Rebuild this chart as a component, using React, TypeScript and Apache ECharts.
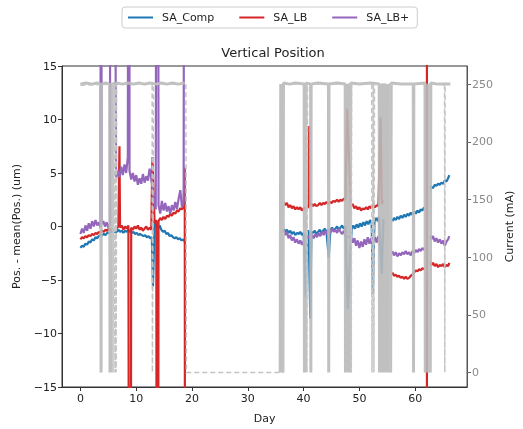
import React, { useEffect, useRef } from "react";
import * as echarts from "echarts";

// Position series: [day, Pos - mean(Pos) (um)]; "-" marks a gap
const saComp: (number | string)[][] = [
  [0, -2.0], [0.3, -1.8], [0.6, -1.9], [0.9, -1.6], [1.2, -1.7], [1.5, -1.4], [1.8, -1.5], [2.1, -1.2], [2.4, -1.3], [2.7, -1.0], [3.0, -1.1], [3.3, -0.9], [3.6, -0.8],
  [3.9, -0.8], [4.2, -0.7], [4.5, -0.8], [4.8, -0.6], [5.1, -0.6], [5.3, -0.5],
  [6.5, -0.5], [6.8, -0.3], [7.1, -0.5], [7.4, -0.4], [7.7, -0.6], [8.0, -0.4], [8.3, -0.5], [8.6, -0.3], [8.9, -0.5], [9.2, -0.6], [9.5, -0.5], [9.8, -0.7], [10.1, -0.6], [10.4, -0.8], [10.7, -0.7], [11.0, -0.8], [11.3, -0.9], [11.6, -0.8], [11.9, -1.0], [12.2, -0.9], [12.5, -1.1], [12.8, -1.0], [13.0, -5.6],
  [13.3, 0.5], [13.6, 0.0], [13.9, -0.2], [14.2, 0.1], [14.5, -0.3], [14.8, -0.5], [15.1, -0.4], [15.4, -0.7], [15.7, -0.6], [16.0, -0.9], [16.3, -0.8], [16.6, -1.0], [16.9, -1.1], [17.2, -1.0], [17.5, -1.2], [17.8, -1.1], [18.1, -1.3], [18.4, -1.2], [18.7, -1.4], [18.8, "-"],
  [36.4, -0.2], [36.7, -0.5], [37.0, -0.3], [37.3, -0.6], [37.6, -0.4], [37.9, -0.7], [38.2, -0.5], [38.5, -0.8], [38.8, -0.6], [39.1, -0.7], [39.4, -0.5], [39.7, -0.8], [40.0, -0.6], [40.4, -6.6], [40.6, -0.5], [40.9, -0.4], [41.2, -8.6], [41.4, -0.5],
  [41.7, -0.6], [42.0, -0.4], [42.3, -0.7], [42.6, -0.5], [42.9, -0.3], [43.2, -0.6], [43.5, -0.4], [43.8, -0.2], [44.1, -0.5], [44.5, -2.9], [44.8, -0.3], [45.1, -0.1], [45.4, -0.4], [45.7, -0.2], [46.0, 0.0], [46.3, -0.3], [46.6, -0.1], [46.9, 0.1], [47.2, -0.2], [47.5, 0.0], [47.9, -7.7],
  [48.6, -0.3], [48.9, 0.1], [49.2, -0.2], [49.5, 0.2], [49.8, -0.1], [50.1, 0.3], [50.4, 0.0], [50.7, 0.4], [51.0, 0.1], [51.3, 0.5], [51.6, 0.2], [51.9, 0.6], [52.2, 0.3], [52.4, -6.3],
  [52.7, 0.5], [53.0, 0.8], [53.3, 0.5], [53.5, 0.9], [54.0, -4.4], [54.3, 0.7], [54.5, "-"],
  [55.9, 0.5], [56.2, 0.8], [56.5, 0.6], [56.8, 0.9], [57.1, 0.7], [57.4, 1.0], [57.7, 0.8], [58.0, 1.1], [58.3, 0.9], [58.6, 1.2], [58.9, 1.0], [59.2, 1.3], [59.5, 1.1], [59.8, 1.4], [60.1, 1.2], [60.4, 1.5], [60.7, 1.3], [61.0, 1.6], [61.3, 1.5], [61.6, 1.8], [61.8, "-"],
  [62.6, 3.5], [62.9, 3.7], [63.2, 3.6], [63.5, 3.9], [63.8, 3.8], [64.1, 4.0], [64.4, 3.9], [64.7, 4.1], [65.0, 4.0], [65.3, 4.3], [65.6, 4.2], [65.9, 4.5], [66.1, 4.8],
];

const saLB: (number | string)[][] = [
  [0, -1.2], [0.3, -1.0], [0.6, -1.1], [0.9, -0.9], [1.2, -1.0], [1.5, -0.8], [1.8, -0.9], [2.1, -0.7], [2.4, -0.8], [2.7, -0.6], [3.0, -0.7], [3.3, -0.5], [3.6, -0.6],
  [3.9, -0.4], [4.2, -0.5], [4.5, -0.3], [4.8, -0.4], [5.1, -0.2], [5.3, -0.3],
  [6.5, -0.2], [6.8, 0.0], [7.0, 7.5], [7.1, -0.1], [7.4, 0.1], [7.7, -0.3], [8.0, 0.0], [8.3, -0.2], [8.6, 0.1], [8.9, -100], [9.1, -0.1], [9.4, -0.3], [9.7, 0.0], [10.0, -0.2], [10.3, 0.1], [10.6, -0.3], [10.9, -0.1], [11.2, -0.4], [11.5, -0.2], [11.8, 0.0], [12.1, -0.3], [12.4, -0.1], [12.7, -0.3], [12.9, 6.5],
  [13.3, 0.3], [13.6, 0.6], [13.8, -100], [14.0, 0.5], [14.3, 0.8], [14.6, 0.6], [14.9, 0.9], [15.2, 0.7], [15.5, 1.0], [15.8, 0.9], [16.1, 1.2], [16.4, 1.0], [16.7, 1.3], [17.0, 1.2], [17.3, 1.5], [17.6, 1.4], [17.9, 1.7], [18.2, 1.6], [18.5, 1.9], [18.7, 5.5], [18.8, -100], [18.9, "-"],
  [36.4, 2.3], [36.7, 2.0], [37.0, 2.2], [37.3, 1.8], [37.6, 2.0], [37.9, 1.7], [38.2, 1.9], [38.5, 1.6], [38.8, 1.8], [39.1, 1.6], [39.4, 1.8], [39.7, 1.5], [40.0, 1.7],
  [40.9, 1.8], [41.0, 9.4], [41.1, 2.0], [41.4, 2.1], [41.7, 1.9], [42.0, 2.1], [42.3, 1.9], [42.6, 2.0], [42.9, 2.2], [43.2, 2.0], [43.5, 2.2], [43.8, 2.1], [44.1, 2.3], [44.4, 2.1], [44.7, 2.3], [45.0, 2.2], [45.3, 2.4], [45.6, 2.3], [46.0, 2.5], [46.3, 2.3], [46.6, 2.5], [46.9, 2.4], [47.2, 2.6], [47.5, 2.5], [47.8, 11.0],
  [48.5, 1.9], [48.8, 2.1], [49.1, 1.7], [49.4, 1.9], [49.7, 1.6], [50.0, 1.8], [50.3, 1.5], [50.6, 1.7], [50.9, 1.6], [51.2, 1.8], [51.5, 1.6], [51.8, 1.9], [52.1, 1.7], [52.4, 2.0],
  [52.8, 1.8], [53.1, 2.0], [53.4, 1.9], [53.8, 10.2], [54.0, 2.1], [54.3, 2.4], [54.5, "-"],
  [55.9, -4.3], [56.2, -4.6], [56.5, -4.5], [56.8, -4.7], [57.1, -4.6], [57.4, -4.8], [57.7, -4.7], [58.0, -4.9], [58.3, -4.7], [58.6, -4.9], [58.9, -4.8], [59.2, -4.6], [59.5, -4.5], [59.8, -4.3], [60.1, -4.1], [60.4, -4.2], [60.7, -4.0], [61.0, -4.1], [61.3, -3.9], [61.6, -4.0], [61.8, "-"],
  [62.1, 100], [62.1, -100], [62.2, "-"],
  [62.6, -3.3], [62.9, -3.6], [63.2, -3.4], [63.5, -3.7], [63.8, -3.5], [64.1, -3.8], [64.4, -3.6], [64.7, -3.7], [65.0, -3.5], [65.3, -3.8], [65.6, -3.6], [65.9, -3.7], [66.1, -3.4],
];

const saLBPlus: (number | string)[][] = [
  [0, -0.7], [0.3, -0.2], [0.6, -0.6], [0.9, 0.1], [1.2, -0.4], [1.5, 0.3], [1.8, -0.2], [2.1, 0.5], [2.4, 0.0], [2.7, 0.6], [3.0, 0.1], [3.3, 0.4], [3.6, -0.1], [3.7, 100],
  [3.8, 0.2], [4.1, 0.5], [4.4, 0.0], [4.7, 0.4], [5.0, -0.1], [5.3, 0.3], [5.4, 100], [5.6, 100],
  [6.4, 4.5], [6.7, 5.2], [7.0, 4.6], [7.3, 5.6], [7.6, 4.8], [7.9, 5.8], [8.2, 5.0], [8.5, 6.5], [8.7, 100], [8.8, 5.2], [9.1, 4.4], [9.4, 5.0], [9.7, 4.2], [10.0, 4.8], [10.3, 3.9], [10.6, 4.5], [10.9, 4.0], [11.2, 4.9], [11.5, 4.1], [11.8, 4.7], [12.1, 4.3], [12.4, 5.4], [12.6, 4.8],
  [13.2, 2.5], [13.5, 1.6], [13.8, 100], [14.0, 2.0], [14.3, 1.2], [14.6, 2.4], [14.9, 1.5], [15.2, 2.2], [15.5, 1.4], [15.8, 1.9], [16.1, 1.2], [16.4, 2.0], [16.7, 1.5], [17.0, 2.3], [17.3, 1.6], [17.6, 2.6], [17.9, 3.4], [18.2, 1.8], [18.5, 2.2], [18.7, 100], [18.8, "-"],
  [36.4, -0.3], [36.7, -0.8], [37.0, -0.5], [37.3, -1.1], [37.6, -0.8], [37.9, -1.3], [38.2, -1.0], [38.5, -1.5], [38.8, -1.2], [39.1, -1.6], [39.4, -1.3], [39.7, -1.7], [40.0, -1.4],
  [40.9, -0.9], [41.2, -1.2], [41.5, -0.8], [41.8, -1.1], [42.1, -0.7], [42.4, -1.0], [42.7, -0.6], [43.0, -0.9], [43.3, -0.5], [43.6, -0.8], [43.9, -0.4], [44.2, -0.7], [44.5, -0.3], [44.8, -0.6], [45.1, -0.2], [45.4, -0.5], [45.7, -0.3], [46.0, -0.6], [46.3, -0.2], [46.6, -0.5], [46.9, -0.7], [47.2, -0.4], [47.5, -0.9],
  [48.5, -1.0], [48.8, -1.5], [49.1, -1.1], [49.4, -1.8], [49.7, -1.3], [50.0, -2.0], [50.3, -1.4], [50.6, -1.9], [50.9, -1.2], [51.2, -1.7], [51.5, -1.0], [51.8, -1.6], [52.1, -1.1], [52.4, -1.5],
  [52.8, -1.0], [53.1, -1.5], [53.4, -0.9], [53.7, -1.3], [54.0, -1.0], [54.3, "-"],
  [55.9, -2.3], [56.2, -2.7], [56.5, -2.4], [56.8, -2.8], [57.1, -2.5], [57.4, -2.7], [57.7, -2.4], [58.0, -2.6], [58.3, -2.3], [58.6, -2.6], [58.9, -2.4], [59.2, -2.7], [59.5, -2.3], [59.8, -2.5], [60.1, -2.2], [60.4, -2.4], [60.7, -2.1], [61.0, -2.3], [61.3, -2.0], [61.6, -2.2], [61.8, "-"],
  [62.6, -0.8], [62.9, -1.2], [63.2, -0.9], [63.5, -1.4], [63.8, -1.1], [64.1, -1.5], [64.4, -1.2], [64.7, -1.6], [65.0, -1.3], [65.3, -1.8], [65.6, -1.4], [65.9, -1.2], [66.1, -0.9],
];

// Beam current (mA): [day, mA]; "-" marks a gap
const currentSolid: (number | string)[][] = [
  [0, 250], [1, 251], [2, 250], [3, 251], [3.65, 250], [3.7, 0], [3.75, 250], [4.5, 251], [5.25, 250], [5.3, 0], [5.35, 250], [5.5, 0], [5.6, 250],
  [6.5, 251], [7.5, 250], [8.5, 251], [9.5, 250], [10.5, 251], [11.5, 250], [12.5, 251], [13.5, 250], [14.5, 251], [15.5, 250], [16.5, 251], [17.5, 250], [18.7, 251], [18.75, "-"],
  [35.8, 0], [35.9, 250], [36.0, 0], [36.2, 250], [36.3, 0], [36.4, 251], [37.5, 250], [38.5, 251], [40.1, 250], [40.15, 0], [40.3, 250], [40.35, 0], [40.45, 251],
  [41.25, 250], [41.3, 0], [41.35, 250], [42.5, 251], [44.45, 250], [44.5, 0], [44.55, 250], [46, 251], [47.45, 250], [47.5, 0], [47.6, 250], [47.7, 0], [47.9, 250], [48.0, 0], [48.2, 250], [48.3, 0], [48.45, 251],
  [50, 250], [52.0, 251], [53.55, 250], [53.6, 0], [53.7, 250], [53.9, 0], [54.0, 250], [54.3, 0], [54.4, 250], [54.8, 0], [54.9, 250], [55.2, 0], [55.3, 250], [55.6, 0], [55.7, 251],
  [57.5, 250], [59.65, 250], [59.7, 0], [59.75, 250], [61.75, 251], [61.8, 0], [61.9, 250], [62.0, 0], [62.1, 250], [62.3, 0], [62.4, 250], [62.7, 0], [62.8, 251], [64, 250], [66.3, 250],
];

const currentDashed: number[][] = [
  [0, 249], [5.8, 250], [5.85, 0], [6.0, 250], [6.2, 0], [6.35, 250], [6.4, 0], [6.5, 250], [12.85, 251], [12.9, 0], [13.1, 250], [18.9, 250], [19.0, 0],
  [36.3, 0], [36.5, 250], [40.5, 250], [40.6, 0], [40.7, 250], [48.5, 250], [48.55, 0], [48.6, 250], [52.2, 250], [52.25, 0], [52.5, 250], [52.6, 0], [52.7, 250],
  [55.45, 250], [55.5, 0], [55.55, 250], [62.45, 250], [62.5, 0], [62.55, 250], [65.25, 250], [65.3, 0], [65.35, 250], [66.3, 250],
];

const xTicks = [0, 10, 20, 30, 40, 50, 60];
const rightTicks = [0, 50, 100, 150, 200, 250];

const FONT = "DejaVu Sans";
const minus = (v: number) => String(v).replace("-", "\u2212");

export default function App() {
  const ref = useRef<HTMLDivElement>(null);
  useEffect(() => {
    if (!ref.current) return;
    const chart = echarts.init(ref.current, undefined, { renderer: "svg" });
    const lineSeries = (name: string, data: any[], color: string) => ({
      name,
      type: "line",
      data,
      yAxisIndex: 0,
      showSymbol: false,
      connectNulls: false,
      lineStyle: { color, width: 2.2 },
      itemStyle: { color },
      emphasis: { disabled: true },
    });
    chart.setOption({
      animation: false,
      textStyle: { fontFamily: FONT },
      title: {
        text: "Vertical Position",
        left: 268,
        textAlign: "center",
        top: 41,
        textStyle: { fontFamily: FONT, fontSize: 13, fontWeight: "normal", color: "#222" },
      },
      legend: {
        data: ["SA_Comp", "SA_LB", "SA_LB+"],
        top: 7,
        left: 122,
        icon: "rect",
        itemWidth: 25,
        itemHeight: 2,
        itemGap: 25,
        padding: [5, 8, 5, 6],
        borderColor: "#cccccc",
        borderWidth: 1,
        borderRadius: 3,
        textStyle: { fontFamily: FONT, fontSize: 11, color: "#222", padding: [0, 0, 0, 4] },
      },
      grid: {
        left: 62,
        right: 48,
        top: 66,
        bottom: 38,
        show: true,
        borderColor: "#333",
        borderWidth: 1,
        backgroundColor: "transparent",
      },
      xAxis: {
        type: "value",
        min: -3.3,
        max: 69.3,
        name: "Day",
        nameLocation: "middle",
        nameGap: 26,
        nameTextStyle: { fontFamily: FONT, fontSize: 11, color: "#222" },
        splitLine: { show: false },
        axisLine: { show: true, onZero: false, lineStyle: { color: "#333" } },
        axisTick: { show: true, length: 4, customValues: xTicks, lineStyle: { color: "#333" } },
        axisLabel: { customValues: xTicks, fontFamily: FONT, fontSize: 11, color: "#222", margin: 6, formatter: (v: number) => minus(v) },
      },
      yAxis: [
        {
          type: "value",
          min: -15,
          max: 15,
          interval: 5,
          position: "left",
          name: "Pos. - mean(Pos.) (um)",
          nameLocation: "middle",
          nameGap: 40,
          nameTextStyle: { fontFamily: FONT, fontSize: 11, color: "#222" },
          splitLine: { show: false },
          axisLine: { show: true, onZero: false, lineStyle: { color: "#333" } },
          axisTick: { show: true, length: 4, lineStyle: { color: "#333" } },
          axisLabel: { fontFamily: FONT, fontSize: 11, color: "#222", margin: 5, formatter: (v: number) => minus(v) },
        },
        {
          type: "value",
          min: -12.65,
          max: 265.7,
          position: "right",
          name: "Current (mA)",
          nameLocation: "middle",
          nameGap: 36,
          nameTextStyle: { fontFamily: FONT, fontSize: 11, color: "#222" },
          splitLine: { show: false },
          axisLine: { show: true, onZero: false, lineStyle: { color: "#555" } },
          axisTick: { show: true, length: 4, customValues: rightTicks, lineStyle: { color: "#666" } },
          axisLabel: { customValues: rightTicks, fontFamily: FONT, fontSize: 11, color: "#8a8a8a", margin: 5 },
        },
      ],
      series: [
        lineSeries("SA_Comp", saComp, "#1f77b4"),
        lineSeries("SA_LB", saLB, "#d62728"),
        lineSeries("SA_LB+", saLBPlus, "#9467bd"),
        {
          name: "Current",
          type: "line",
          data: currentSolid,
          yAxisIndex: 1,
          showSymbol: false,
          connectNulls: false,
          lineStyle: { color: "#b9b9b9", width: 3, opacity: 0.9 },
          emphasis: { disabled: true },
        },
        {
          name: "Current2",
          type: "line",
          data: currentDashed,
          yAxisIndex: 1,
          showSymbol: false,
          lineStyle: { color: "#c4c4c4", width: 1.5, type: [5, 3] },
          emphasis: { disabled: true },
        },
      ],
    });
    return () => chart.dispose();
  }, []);
  return <div ref={ref} style={{ position: "fixed", left: 0, top: 0, width: 523, height: 429 }} />;
}
